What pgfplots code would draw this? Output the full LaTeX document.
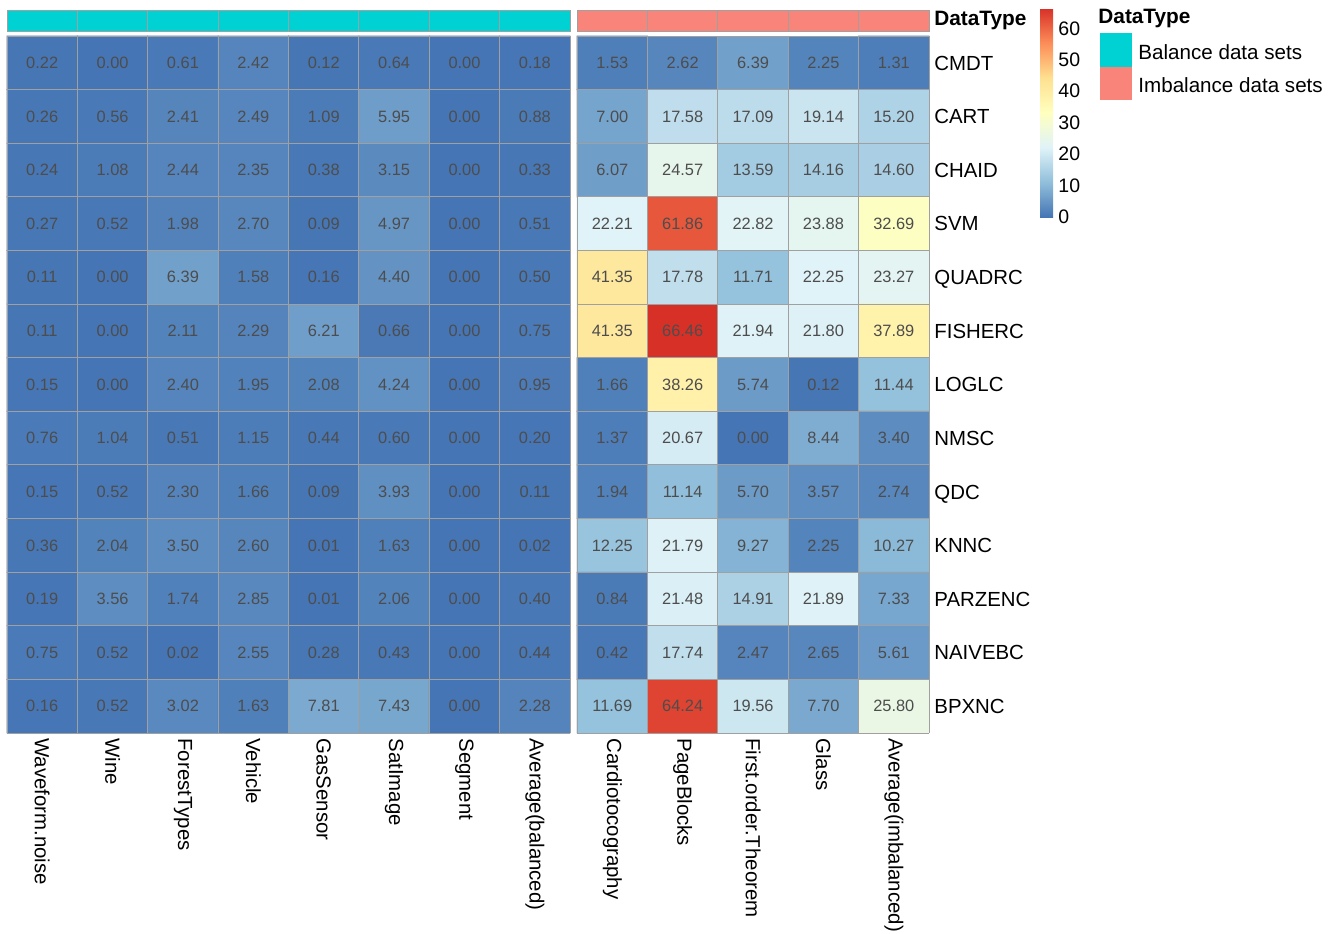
\documentclass[border=0pt]{standalone}
\usepackage{pgfplots}
\usepackage{pgfplotstable}
\pgfplotsset{compat=1.18}
\usepackage{fontspec}
\setmainfont{Liberation Sans}
\definecolor{cyanc}{RGB}{0,210,212}
\definecolor{salmonc}{RGB}{248,132,122}
\definecolor{cellline}{RGB}{160,160,160}
\definecolor{numc}{RGB}{77,77,77}
\pgfplotsset{/pgf/number format/assume math mode=true}

% balanced data sets: c = column, r = row (0 = CMDT ... 12 = BPXNC)
\pgfplotstableread{
c r v
0 0 0.22
1 0 0.00
2 0 0.61
3 0 2.42
4 0 0.12
5 0 0.64
6 0 0.00
7 0 0.18
0 1 0.26
1 1 0.56
2 1 2.41
3 1 2.49
4 1 1.09
5 1 5.95
6 1 0.00
7 1 0.88
0 2 0.24
1 2 1.08
2 2 2.44
3 2 2.35
4 2 0.38
5 2 3.15
6 2 0.00
7 2 0.33
0 3 0.27
1 3 0.52
2 3 1.98
3 3 2.70
4 3 0.09
5 3 4.97
6 3 0.00
7 3 0.51
0 4 0.11
1 4 0.00
2 4 6.39
3 4 1.58
4 4 0.16
5 4 4.40
6 4 0.00
7 4 0.50
0 5 0.11
1 5 0.00
2 5 2.11
3 5 2.29
4 5 6.21
5 5 0.66
6 5 0.00
7 5 0.75
0 6 0.15
1 6 0.00
2 6 2.40
3 6 1.95
4 6 2.08
5 6 4.24
6 6 0.00
7 6 0.95
0 7 0.76
1 7 1.04
2 7 0.51
3 7 1.15
4 7 0.44
5 7 0.60
6 7 0.00
7 7 0.20
0 8 0.15
1 8 0.52
2 8 2.30
3 8 1.66
4 8 0.09
5 8 3.93
6 8 0.00
7 8 0.11
0 9 0.36
1 9 2.04
2 9 3.50
3 9 2.60
4 9 0.01
5 9 1.63
6 9 0.00
7 9 0.02
0 10 0.19
1 10 3.56
2 10 1.74
3 10 2.85
4 10 0.01
5 10 2.06
6 10 0.00
7 10 0.40
0 11 0.75
1 11 0.52
2 11 0.02
3 11 2.55
4 11 0.28
5 11 0.43
6 11 0.00
7 11 0.44
0 12 0.16
1 12 0.52
2 12 3.02
3 12 1.63
4 12 7.81
5 12 7.43
6 12 0.00
7 12 2.28
}\bal

% imbalanced data sets
\pgfplotstableread{
c r v
0 0 1.53
1 0 2.62
2 0 6.39
3 0 2.25
4 0 1.31
0 1 7.00
1 1 17.58
2 1 17.09
3 1 19.14
4 1 15.20
0 2 6.07
1 2 24.57
2 2 13.59
3 2 14.16
4 2 14.60
0 3 22.21
1 3 61.86
2 3 22.82
3 3 23.88
4 3 32.69
0 4 41.35
1 4 17.78
2 4 11.71
3 4 22.25
4 4 23.27
0 5 41.35
1 5 66.46
2 5 21.94
3 5 21.80
4 5 37.89
0 6 1.66
1 6 38.26
2 6 5.74
3 6 0.12
4 6 11.44
0 7 1.37
1 7 20.67
2 7 0.00
3 7 8.44
4 7 3.40
0 8 1.94
1 8 11.14
2 8 5.70
3 8 3.57
4 8 2.74
0 9 12.25
1 9 21.79
2 9 9.27
3 9 2.25
4 9 10.27
0 10 0.84
1 10 21.48
2 10 14.91
3 10 21.89
4 10 7.33
0 11 0.42
1 11 17.74
2 11 2.47
3 11 2.65
4 11 5.61
0 12 11.69
1 12 64.24
2 12 19.56
3 12 7.70
4 12 25.80
}\imb

\begin{document}
\begin{tikzpicture}
\begin{axis}[
  at={(3.5pt,-18pt)}, anchor=north west,
  scale only axis, width=461pt, height=348.5pt,
  xmin=-0.5, xmax=12.6, ymin=-0.5, ymax=12.5,
  enlargelimits=false, clip=false,
  axis line style={draw=none}, major tick length=0pt, tick style={draw=none},
  xtick={0,1,2,3,4,5,6,7,8.1,9.1,10.1,11.1,12.1},
  xticklabels={Waveform.noise,Wine,ForestTypes,Vehicle,GasSensor,SatImage,Segment,Average(balanced),Cardiotocography,PageBlocks,First.order.Theorem,Glass,Average(imbalanced)},
  ytick={0,1,...,12},
  yticklabels={BPXNC,NAIVEBC,PARZENC,KNNC,QDC,NMSC,LOGLC,FISHERC,QUADRC,SVM,CHAID,CART,CMDT},
  yticklabel pos=right,
  xticklabel style={rotate=-90, anchor=west, inner sep=0pt, font=\fontsize{10.2}{12}\selectfont},
  yticklabel style={anchor=west, inner sep=0pt, text height=7.3pt, text depth=0pt, font=\fontsize{10.2}{12}\selectfont},
  xticklabel shift=2.5pt, yticklabel shift=2.5pt,
  colormap={rdylbu}{rgb255=(69,117,180) rgb255=(145,191,219) rgb255=(224,243,248) rgb255=(255,255,191) rgb255=(254,224,144) rgb255=(252,141,89) rgb255=(215,48,39)},
  point meta min=0, point meta max=66.46,
  colorbar,
  colorbar style={
    at={(parent axis.north east)}, anchor=north west,
    xshift=47pt, yshift=14pt,
    scale only axis, width=6.5pt, height=104.5pt,
    ytick={0,10,...,60},
    yticklabel style={font=\fontsize{9.75}{11}\selectfont, anchor=west, inner sep=0pt},
    yticklabel shift=2.5pt,
    axis line style={draw=none}, tick style={draw=none}, major tick length=0pt,
  },
]
\addplot[matrix plot*, mesh/cols=8, point meta=explicit]
  table[x=c, y expr=12-\thisrow{r}, meta=v] {\bal};
\addplot[matrix plot*, mesh/cols=5, point meta=explicit]
  table[x expr=\thisrow{c}+8.1, y expr=12-\thisrow{r}, meta=v] {\imb};

% cell borders
\pgfplotsinvokeforeach{-0.5,0.5,...,12.5}{
  \draw[cellline, line width=0.5pt] (axis cs:-0.5,#1) -- (axis cs:7.5,#1);
  \draw[cellline, line width=0.5pt] (axis cs:7.6,#1) -- (axis cs:12.6,#1);
}
\pgfplotsinvokeforeach{-0.5,0.5,...,7.5}{
  \draw[cellline, line width=0.5pt] (axis cs:#1,-0.5) -- (axis cs:#1,12.5);
}
\pgfplotsinvokeforeach{7.6,8.6,9.6,10.6,11.6,12.6}{
  \draw[cellline, line width=0.5pt] (axis cs:#1,-0.5) -- (axis cs:#1,12.5);
}
% annotation bar
\draw[fill=cyanc, draw=cellline, line width=0.5pt] (axis cs:-0.5,12.575) rectangle (axis cs:7.5,12.985);
\draw[fill=salmonc, draw=cellline, line width=0.5pt] (axis cs:7.6,12.575) rectangle (axis cs:12.6,12.985);
\pgfplotsinvokeforeach{0.5,1.5,...,6.5}{
  \draw[cellline, line width=0.5pt] (axis cs:#1,12.575) -- (axis cs:#1,12.985);
}
\pgfplotsinvokeforeach{8.6,9.6,10.6,11.6}{
  \draw[cellline, line width=0.5pt] (axis cs:#1,12.575) -- (axis cs:#1,12.985);
}

% cell values
\addplot[only marks, mark=none, point meta=explicit,
  nodes near coords={\pgfmathprintnumber[fixed,fixed zerofill,precision=2]{\pgfplotspointmeta}},
  every node near coord/.append style={anchor=center, inner sep=0pt, text=numc, font=\fontsize{8.2}{10}\selectfont}]
  table[x=c, y expr=12-\thisrow{r}, meta=v] {\bal};
\addplot[only marks, mark=none, point meta=explicit,
  nodes near coords={\pgfmathprintnumber[fixed,fixed zerofill,precision=2]{\pgfplotspointmeta}},
  every node near coord/.append style={anchor=center, inner sep=0pt, text=numc, font=\fontsize{8.2}{10}\selectfont}]
  table[x expr=\thisrow{c}+8.1, y expr=12-\thisrow{r}, meta=v] {\imb};
\end{axis}

\node[anchor=west, inner sep=0pt, font=\bfseries\fontsize{10.4}{12}\selectfont] at (467pt,-10pt) {DataType};
\node[anchor=west, inner sep=0pt, font=\bfseries\fontsize{10.4}{12}\selectfont] at (549pt,-9pt) {DataType};
\fill[cyanc] (550pt,-16.5pt) rectangle (566pt,-33.5pt);
\fill[salmonc] (550pt,-33.5pt) rectangle (566pt,-50pt);
\node[anchor=west, inner sep=0pt, font=\fontsize{10.3}{12}\selectfont] at (569pt,-26pt) {Balance data sets};
\node[anchor=west, inner sep=0pt, font=\fontsize{10.3}{12}\selectfont] at (569pt,-42.5pt) {Imbalance data sets};

\pgfresetboundingbox
\path (0pt,0pt) rectangle (668.5pt,-466.5pt);
\end{tikzpicture}
\end{document}
